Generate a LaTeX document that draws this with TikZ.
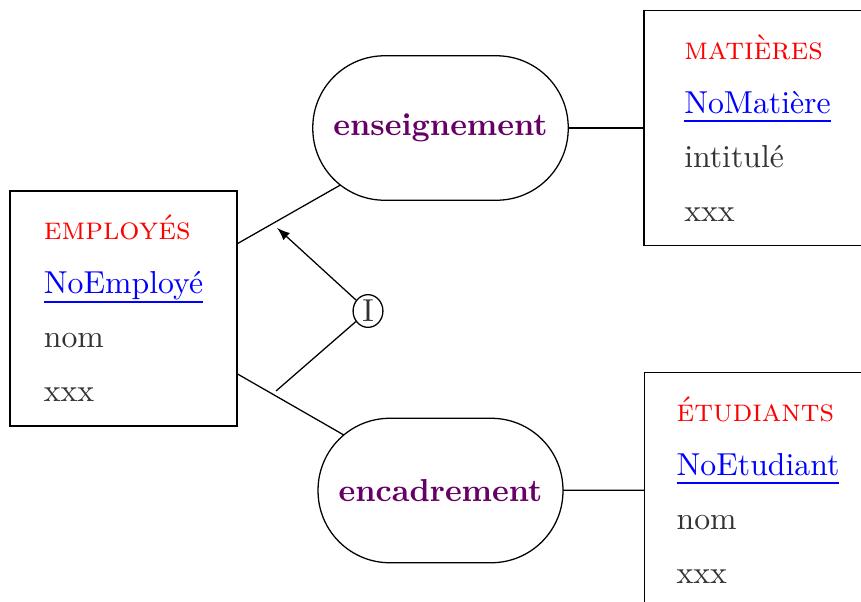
\documentclass[tikz,border=0pt]{standalone}
\usepackage{tikz}
\usetikzlibrary{arrows,backgrounds,calc,shapes.geometric}
\usepackage{amssymb}
\usepackage{amsmath}

\definecolor{violetfonce}{RGB}{102,0,102}
\tikzset{
entite/.style={draw, fill=white, rectangle, align=left, minimum width=71.5pt, minimum height=74pt, inner xsep=10pt, text=black!80},
association/.style={draw, fill=white, rectangle, rounded corners=22.6pt, minimum height=45.5pt, inner xsep=6.5pt, font=\bfseries, text=violetfonce},
contrainte/.style={draw, fill=white, ellipse, inner sep=0pt, minimum width=9.4pt, minimum height=10.3pt, text=black!80}
}
\newcommand{\nomentite}[1]{\textcolor{red}{\textsc{#1}}}
\newcommand{\identifiant}[1]{\textcolor{blue}{\setbox0\hbox{#1}\rlap{\rule[-2.8pt]{\wd0}{0.6pt}}\box0}}

\begin{document}
\begin{tikzpicture}[x=0.315pt, y=-0.315pt]
\useasboundingbox (0,0) rectangle (861,601);

\node[entite] (employes) at (123.5,308.5) {\nomentite{employés}\\[5pt] \identifiant{NoEmployé}\\[5pt] nom\\[5pt] xxx};
\node[entite] (matieres) at (757.5,128) {\nomentite{matières}\\[5pt] \identifiant{NoMatière}\\[5pt] intitulé\\[5pt] xxx};
\node[entite] (etudiants) at (758,490) {\nomentite{étudiants}\\[5pt] \identifiant{NoEtudiant}\\[5pt] nom\\[5pt] xxx};

\node[association] (enseignement) at (440.5,128) {enseignement};
\node[association] (encadrement) at (440.5,490.5) {encadrement};

\node[contrainte] (I) at (368,311) {I};

\begin{scope}[on background layer]
\draw (employes.center) -- coordinate[pos=0.47] (ensP) (enseignement.center);
\draw (employes.center) -- coordinate[pos=0.47] (encP) (encadrement.center);
\draw (enseignement.center) -- (matieres.center);
\draw (encadrement.center) -- (etudiants.center);
\end{scope}

\draw[-latex, shorten >=2pt] (I) -- (ensP);
\draw[shorten >=1.5pt] (I) -- (encP);
\end{tikzpicture}
\end{document}
